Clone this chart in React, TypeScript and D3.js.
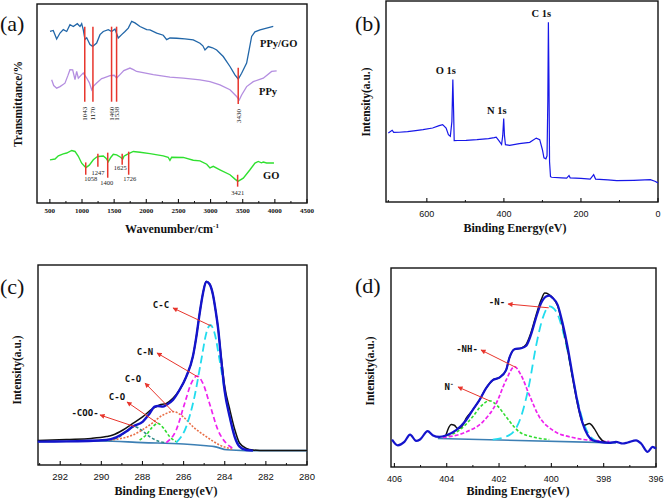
import React from "react";
import * as d3 from "d3";

type Pt = [number, number];

// ---------- (a) FTIR ----------
const ftirTicks = [500, 1000, 1500, 2000, 2500, 3000, 3500, 4000, 4500];
const ftirMinor = [750, 1250, 1750, 2250, 2750, 3250, 3750, 4250];
const ppyGOSeries: Pt[] = [
  [502, 86.2], [553, 86.7], [606, 82.4], [658, 85.4], [709, 87.1], [762, 86.2], [813, 89.6], [865, 88.7],
  [927, 90.1], [969, 88.7], [995, 90.1], [1020, 87], [1046, 82.2], [1073, 83], [1124, 79.6], [1166, 78.7],
  [1228, 80.4], [1280, 84.6], [1331, 86.2], [1409, 87.1], [1462, 86.2], [1513, 87.4], [1564, 82.9],
  [1617, 84.6], [1669, 86.2], [1720, 87.9], [1773, 91.3], [1824, 90.5], [1902, 88.7], [2006, 87.1],
  [2057, 87], [2162, 85.4], [2264, 84.3], [2317, 82.1], [2368, 82.9], [2473, 82.8], [2600, 82.5],
  [2731, 82], [2835, 80.3], [2880, 79], [2913, 76.9], [2965, 78.6], [3030, 78], [3095, 76.9],
  [3197, 73.6], [3302, 68.6], [3379, 64.4], [3431, 62.3], [3483, 65.2], [3561, 70.3], [3600, 77],
  [3639, 83.7], [3690, 86], [3770, 87], [3872, 87.9], [3975, 88.7],
];
const ppySeries: Pt[] = [
  [528, 61.9], [560, 59], [606, 57.7], [658, 58.5], [735, 60.2], [780, 64], [813, 67], [855, 66.9],
  [891, 62], [917, 66.1], [943, 62.7], [995, 64.5], [1020, 65.3], [1073, 62.8], [1113, 60.5], [1151, 56.9],
  [1176, 58.6], [1228, 60.3], [1306, 62.5], [1331, 62.8], [1435, 64], [1500, 64.2], [1539, 62.8],
  [1591, 64.5], [1650, 66.5], [1746, 67.8], [1800, 67], [1850, 66.1], [1950, 65.5], [2109, 64.5],
  [2368, 63.3], [2575, 62.7], [2835, 61.9], [2990, 61], [3146, 59.4], [3302, 56.9], [3406, 53.5],
  [3446, 51.8], [3483, 54.3], [3561, 58.5], [3664, 61], [3820, 62.7], [3950, 66.1], [4028, 66.4],
];
const goSeries: Pt[] = [
  [502, 21.7], [580, 22.1], [632, 23.7], [709, 24.7], [762, 25.1], [840, 26.4], [891, 25.9], [943, 23.5],
  [995, 20], [1046, 18.2], [1062, 17.8], [1113, 19], [1176, 21.7], [1228, 23.1], [1254, 23.4], [1331, 23.6],
  [1373, 22.5], [1409, 20.8], [1450, 23], [1487, 24.5], [1539, 24.2], [1600, 23], [1633, 22.1], [1653, 23.5],
  [1695, 24.3], [1798, 25.9], [1902, 25.5], [2057, 24.8], [2264, 23.7], [2340, 23], [2368, 21.4], [2395, 23],
  [2575, 22.9], [2731, 21.5], [2835, 21.2], [2940, 19.5], [2990, 17.6], [3042, 18.4], [3146, 16.7],
  [3302, 14.2], [3380, 12], [3425, 10.9], [3509, 12.5], [3613, 16.7], [3691, 20.1], [3742, 20.9],
  [3790, 20.2], [3820, 20.6], [3872, 20.1], [3986, 20.1],
];
// marks: wavenumber, top value, bottom value
const ftirUpperMarks: [number, number, number][] = [
  [1043, 88.6, 50.9], [1170, 88.6, 50.9], [1460, 88.6, 50.9], [1538, 88.6, 50.9], [3430, 68, 49.8],
];
const ftirGOMarks: [number, number, number][] = [
  [1058, 20.4, 14.2], [1247, 24.8, 18.2], [1400, 25.3, 12.7], [1625, 24.8, 19.2], [1726, 25.8, 14.2], [3421, 14.2, 8.2],
];
const ftirGOLabelShift: Pt[] = [[5, 6], [0, 8], [-1, 7], [-2, 5.5], [1, 6], [0, 8]];

// ---------- (b) XPS survey ----------
const surveyTicks = [600, 400, 200, 0];
const surveyMinor = [700, 500, 300, 100];
const surveySeries: Pt[] = [
  [700, 34.3], [690, 35.7], [686, 34.6], [672, 34.7], [650, 35], [629, 35.5], [610, 36], [585, 36.8],
  [568, 38], [559, 38.5], [550, 36.8], [544, 33.5], [539, 32.7], [535, 40], [532.5, 61], [530.5, 45],
  [529, 30.5], [520, 30.6], [498, 30.7], [470, 31], [440, 31.5], [425, 32], [420, 32.3], [413, 30.5],
  [406, 28.6], [403, 33], [400.5, 41.5], [398.5, 33], [396, 28.5], [385, 28.2], [360, 29], [333, 29.7],
  [316, 31.8], [307, 31], [300, 26], [296, 22], [291, 21.5], [288, 23], [286, 50], [284.5, 89.4],
  [283, 60], [281.5, 20], [279, 12.6], [276, 12.3], [250, 12], [237, 11.9], [231, 13.2], [228, 12],
  [200, 11.8], [176, 11.4], [167, 13.6], [162, 11.4], [130, 11], [107, 10.6], [63, 10.8], [20, 11.1],
  [8, 10.3], [0, 9.5],
];
const surveyPeaks: [string, number, number][] = [["O 1s", 532.5, 61], ["N 1s", 400.5, 41.5], ["C 1s", 284.5, 89.4]];

// ---------- (c) C 1s ----------
const c1sTicks = [292, 290, 288, 286, 284, 282, 280];
const c1sMinor = [293, 291, 289, 287, 285, 283, 281];
const c1sRaw: Pt[] = [
  [293.09, 12.2], [291.7, 12.8], [290.5, 13.3], [289.76, 14.2], [289.44, 15], [288.95, 17.5], [288.47, 20.8],
  [287.98, 24.2], [287.49, 28.3], [287.17, 30], [286.84, 30.8], [286.52, 33.3], [286.2, 37.5], [285.87, 44.2],
  [285.55, 54.2], [285.38, 64.2], [285.22, 75.8], [285.06, 85.8], [284.9, 91.7], [284.74, 90.5], [284.57, 85],
  [284.44, 77], [284.33, 69], [284.17, 54], [284.01, 40], [283.76, 28], [283.52, 18], [283.28, 11],
  [282.95, 8.3], [282.63, 7.5], [282, 7.2], [280, 7.2],
];
const c1sEnvelope: Pt[] = [
  [293.09, 11.7], [291.71, 11.8], [289.76, 12.5], [289.28, 13.8], [288.79, 16.7], [288.47, 19.2],
  [287.98, 21.7], [287.65, 25.8], [287.41, 29.2], [287.25, 29.5], [287.01, 29.2], [286.84, 30],
  [286.52, 32.5], [286.2, 37.5], [285.87, 44.2], [285.55, 54.2], [285.38, 64.2], [285.22, 75.8],
  [285.06, 85.8], [284.9, 91.7], [284.74, 90.5], [284.57, 85], [284.44, 77], [284.33, 69], [284.17, 52.5],
  [284.01, 37.5], [283.76, 24.2], [283.52, 14.2], [283.28, 9.2], [282.95, 7.5], [282.63, 7.2],
];
const c1sBaseline: Pt[] = [
  [293.09, 11.7], [290, 12], [288, 11.2], [286, 10.5], [284.9, 9.6], [284.5, 9.2], [283.9, 7.6], [283, 7.2], [280, 7.2],
];
const c1sCOO: Pt[] = [
  [289.6, 12.2], [289.11, 14.2], [288.71, 17.5], [288.38, 19.2], [288.06, 17.5], [287.65, 14.2], [287.17, 11.7], [286.84, 11.2],
];
const c1sCO1: Pt[] = [
  [288.14, 12.5], [287.82, 15], [287.53, 18.8], [287.25, 20.8], [286.97, 18.3], [286.68, 14.2], [286.36, 11.7],
];
const c1sCO2: Pt[] = [
  [289.6, 12.5], [288.47, 15], [287.65, 20], [287.0, 25], [286.52, 26.7], [286.03, 24.2], [285.55, 19.2],
  [284.9, 14.2], [284.25, 10], [283.6, 7.8],
];
const c1sCN: Pt[] = [
  [286.84, 11.2], [286.36, 17.5], [285.95, 30.8], [285.63, 40.8], [285.35, 44.5], [285.06, 40.8],
  [284.74, 30.8], [284.33, 17.5], [283.92, 10.8], [283.6, 8.3],
];
const c1sCC: Pt[] = [
  [286.36, 11.2], [285.87, 19.2], [285.47, 34.2], [285.14, 52.5], [284.9, 65.8], [284.7, 70], [284.49, 65.8],
  [284.25, 52.5], [283.92, 32.5], [283.6, 17.5], [283.28, 9.2], [283.03, 7.5],
];

// ---------- (d) N 1s ----------
const n1sTicks = [406, 404, 402, 400, 398, 396];
const n1sMinor = [405, 403, 401, 399, 397];
const n1sMeasured: Pt[] = [
  [406.09, 13.8], [405.87, 10.9], [405.62, 12.6], [405.4, 16.3], [405.17, 13.1], [405.02, 13.8], [404.73, 18],
  [404.54, 16], [404.28, 15.1], [404.03, 15.8], [403.64, 18.5], [403.26, 23.5], [403.01, 28.6], [402.75, 33.6],
  [402.5, 39.5], [402.24, 43.7], [401.99, 44.9], [401.73, 48.7], [401.61, 54.6], [401.41, 59.2], [401.16, 59.7],
  [400.97, 60.8], [400.78, 66.4], [400.59, 74.8], [400.39, 82.4], [400.2, 85.7], [400.08, 86.1], [399.95, 84.9],
  [399.76, 81.5], [399.57, 72.3], [399.38, 60.5], [399.18, 45.4], [398.99, 31.9], [398.8, 21.8], [398.61, 16],
  [398.42, 13.4], [398.17, 12.6], [397.78, 12.1], [397.53, 12.6], [397.27, 11.8], [397.08, 12.3], [396.76, 13.4],
  [396.57, 11.8], [396.32, 7.6], [396.13, 10.1], [396.0, 9.2],
];
const n1sRaw: Pt[] = [
  [404.03, 16], [403.83, 21.3], [403.71, 21], [403.58, 19.3], [403.39, 21], [403.26, 24.4], [403.01, 28.6],
  [402.75, 33.6], [402.5, 39.5], [402.24, 43.7], [401.99, 44.9], [401.73, 48.7], [401.61, 54.6], [401.41, 59.2],
  [401.16, 59.7], [400.97, 61.5], [400.78, 67.5], [400.59, 76], [400.39, 84], [400.25, 87.4], [400.1, 86.8],
  [399.95, 85], [399.76, 81], [399.57, 71], [399.38, 59], [399.18, 44], [398.99, 31], [398.87, 24.4],
  [398.74, 21], [398.55, 21.8], [398.36, 19.3], [398.17, 15.1], [397.97, 12.6], [397.78, 12.1],
];
const n1sBaseline: Pt[] = [[404.34, 14.3], [397.53, 12.1]];
const n1sNminus: Pt[] = [
  [404.15, 15.1], [403.52, 18.5], [403.01, 25.2], [402.69, 30.6], [402.37, 33.3], [402.05, 30.6], [401.73, 25.2],
  [401.22, 17.6], [400.71, 15.1], [400.08, 13.8],
];
const n1sNH: Pt[] = [
  [404.15, 14.8], [403.26, 17.6], [402.62, 22.7], [402.11, 31.9], [401.73, 43.7], [401.41, 50.4], [401.16, 46.2],
  [400.84, 36.1], [400.46, 25.2], [399.95, 18.5], [399.18, 14.8], [398.17, 13.1], [397.78, 12.8],
];
const n1sN: Pt[] = [
  [402.24, 13.8], [401.61, 16], [401.16, 25.2], [400.84, 42], [400.59, 60.5], [400.33, 74.8], [400.08, 80.7],
  [399.82, 78.2], [399.57, 68.9], [399.31, 53.8], [399.06, 37], [398.8, 23.5], [398.55, 16], [398.29, 13.1],
];

type Box = { x0: number; x1: number; y0: number; y1: number };

const serif = "'Liberation Serif', 'Times New Roman', serif";
const sans = "'Liberation Sans', Arial, sans-serif";
const mono = "'DejaVu Sans Mono', monospace";
const RED = "#e8352c";

function makeLine(sx: d3.ScaleLinear<number, number>, sy: d3.ScaleLinear<number, number>, smooth: boolean) {
  const l = d3.line<Pt>().x((d) => sx(d[0])).y((d) => sy(d[1]));
  if (smooth) l.curve(d3.curveMonotoneX);
  return (data: Pt[]) => l([...data].sort((a, b) => sx(a[0]) - sx(b[0]))) || "";
}

function Frame({ box, sx, ticks, minor, font, size, weight, labelY }: {
  box: Box; sx: d3.ScaleLinear<number, number>; ticks: number[]; minor: number[];
  font: string; size: number; weight: string; labelY: number;
}) {
  return (
    <g>
      <rect x={box.x0} y={box.y0} width={box.x1 - box.x0} height={box.y1 - box.y0} fill="none" stroke="#111" strokeWidth={1.4} />
      {ticks.map((t) => (
        <g key={"M" + t}>
          <line x1={sx(t)} x2={sx(t)} y1={box.y1} y2={box.y1 - 4} stroke="#111" strokeWidth={1.1} />
          <text x={sx(t)} y={labelY} textAnchor="middle" fontFamily={font} fontSize={size} fontWeight={weight} fill="#111">{t}</text>
        </g>
      ))}
      {minor.map((t) => (
        <line key={"m" + t} x1={sx(t)} x2={sx(t)} y1={box.y1} y2={box.y1 - 2} stroke="#111" strokeWidth={1} />
      ))}
    </g>
  );
}

function YTitle({ x, y, text, size }: { x: number; y: number; text: string; size: number }) {
  return (
    <text transform={`translate(${x},${y}) rotate(-90)`} textAnchor="middle" dy="0.35em" fontFamily={serif} fontWeight="bold" fontSize={size} fill="#111">{text}</text>
  );
}

function Arrow({ x1, y1, x2, y2 }: { x1: number; y1: number; x2: number; y2: number }) {
  return <line x1={x1} y1={y1} x2={x2} y2={y2} stroke={RED} strokeWidth={1} markerEnd="url(#arrowHead)" />;
}

export default function App() {
  // panel (a)
  const boxA: Box = { x0: 37, x1: 307, y0: 4, y1: 203 };
  const sxA = d3.scaleLinear().domain([300, 4500]).range([boxA.x0, boxA.x1]);
  const syA = d3.scaleLinear().domain([0, 100]).range([boxA.y1, boxA.y0]);
  const lineA = makeLine(sxA, syA, false);

  // panel (b)
  const boxB: Box = { x0: 386, x1: 658, y0: 1, y1: 202 };
  const sxB = d3.scaleLinear().domain([706, 0]).range([boxB.x0, boxB.x1]);
  const syB = d3.scaleLinear().domain([0, 100]).range([boxB.y1, boxB.y0]);
  const lineB = makeLine(sxB, syB, false);

  // panel (c)
  const boxC: Box = { x0: 38, x1: 307, y0: 265, y1: 465 };
  const sxC = d3.scaleLinear().domain([293.08, 280]).range([boxC.x0, boxC.x1]);
  const syC = d3.scaleLinear().domain([0, 100]).range([boxC.y1, boxC.y0]);
  const lineC = makeLine(sxC, syC, true);

  // panel (d)
  const boxD: Box = { x0: 391, x1: 656, y0: 268, y1: 467 };
  const sxD = d3.scaleLinear().domain([406.13, 396]).range([boxD.x0, boxD.x1]);
  const syD = d3.scaleLinear().domain([0, 100]).range([boxD.y1, boxD.y0]);
  const lineD = makeLine(sxD, syD, true);

  return (
    <svg width={666} height={500} viewBox="0 0 666 500" style={{ position: "absolute", left: 0, top: 0, background: "#fff" }}>
      <defs>
        <marker id="arrowHead" viewBox="0 0 10 10" refX="9" refY="5" markerWidth="6" markerHeight="5" orient="auto" markerUnits="userSpaceOnUse">
          <path d="M0,0 L10,5 L0,10 z" fill={RED} />
        </marker>
      </defs>
      <rect x={0} y={0} width={666} height={500} fill="#fff" />

      {/* ================= (a) ================= */}
      <Frame box={boxA} sx={sxA} ticks={ftirTicks} minor={ftirMinor} font={serif} size={7} weight="bold" labelY={212.5} />
      <path d={lineA(ppyGOSeries)} fill="none" stroke="#2166a8" strokeWidth={1.3} />
      <path d={lineA(ppySeries)} fill="none" stroke="#b48ee0" strokeWidth={1.3} />
      <path d={lineA(goSeries)} fill="none" stroke="#2fe02f" strokeWidth={1.4} />
      {ftirUpperMarks.map(([w, t, b]) => (
        <g key={"u" + w}>
          <line x1={sxA(w)} x2={sxA(w)} y1={syA(t)} y2={syA(b)} stroke={RED} strokeWidth={1.5} />
          <text transform={`translate(${sxA(w)},${syA(b) + 12}) rotate(-90)`} textAnchor="middle" dy="0.35em" fontFamily={serif} fontSize={7} fill="#222">{w}</text>
        </g>
      ))}
      {ftirGOMarks.map(([w, t, b], i) => (
        <g key={"g" + w}>
          <line x1={sxA(w)} x2={sxA(w)} y1={syA(t)} y2={syA(b)} stroke={RED} strokeWidth={1.5} />
          <text x={sxA(w) + ftirGOLabelShift[i][0]} y={syA(b) + ftirGOLabelShift[i][1]} textAnchor="middle" fontFamily={serif} fontSize={6.5} fill="#222">{w}</text>
        </g>
      ))}
      <text x={260} y={47} fontFamily={serif} fontWeight="bold" fontSize={10.5} fill="#111">PPy/GO</text>
      <text x={259} y={95} fontFamily={serif} fontWeight="bold" fontSize={10.5} fill="#111">PPy</text>
      <text x={263} y={179} fontFamily={serif} fontWeight="bold" fontSize={10.5} fill="#111">GO</text>
      <text x={0} y={31} fontFamily={serif} fontSize={22} fill="#111">(a)</text>
      <YTitle x={18} y={104} text="Transmittance/%" size={11.5} />
      <text x={172} y={233} textAnchor="middle" fontFamily={serif} fontWeight="bold" fontSize={12} fill="#111">
        Wavenumber/cm<tspan dy={-5} fontSize={7}>-1</tspan>
      </text>

      {/* ================= (b) ================= */}
      <Frame box={boxB} sx={sxB} ticks={surveyTicks} minor={surveyMinor} font={sans} size={9} weight="normal" labelY={216.5} />
      <path d={lineB(surveySeries)} fill="none" stroke="#1717e8" strokeWidth={1.2} />
      {surveyPeaks.map(([name, be, v]) => (
        <text key={name} x={sxB(be) - 7} y={syB(v) - 5} textAnchor="middle" fontFamily={serif} fontWeight="bold" fontSize={10.5} fill="#111">{name}</text>
      ))}
      <text x={355} y={31} fontFamily={serif} fontSize={22} fill="#111">(b)</text>
      <YTitle x={366} y={102} text="Intensity(a.u.)" size={11.5} />
      <text x={515} y={232} textAnchor="middle" fontFamily={serif} fontWeight="bold" fontSize={12} fill="#111">Binding Energy(eV)</text>

      {/* ================= (c) ================= */}
      <Frame box={boxC} sx={sxC} ticks={c1sTicks} minor={c1sMinor} font={sans} size={9.5} weight="normal" labelY={480} />
      <path d={lineC(c1sBaseline)} fill="none" stroke="#3c7fb4" strokeWidth={1.6} />
      <path d={lineC(c1sCOO)} fill="none" stroke="#2e8c86" strokeWidth={1.6} strokeDasharray="3,2" />
      <path d={lineC(c1sCO1)} fill="none" stroke="#2fdc2f" strokeWidth={1.6} strokeDasharray="3,2" />
      <path d={lineC(c1sCO2)} fill="none" stroke="#e87048" strokeWidth={1.6} strokeDasharray="2,1.5" />
      <path d={lineC(c1sCN)} fill="none" stroke="#ee22ee" strokeWidth={1.7} strokeDasharray="5,3" />
      <path d={lineC(c1sCC)} fill="none" stroke="#22dcee" strokeWidth={1.8} strokeDasharray="8,4" />
      <path d={lineC(c1sRaw)} fill="none" stroke="#111" strokeWidth={1.5} />
      <path d={lineC(c1sEnvelope)} fill="none" stroke="#1414cc" strokeWidth={2.4} />
      <Arrow x1={sxC(284.66)} y1={syC(69.5)} x2={173} y2={308} />
      <text x={161} y={307.5} textAnchor="middle" fontFamily={mono} fontWeight="bold" fontSize={9} fill="#111">C-C</text>
      <Arrow x1={sxC(285.3)} y1={syC(44)} x2={157} y2={353} />
      <text x={145} y={355} textAnchor="middle" fontFamily={mono} fontWeight="bold" fontSize={9} fill="#111">C-N</text>
      <Arrow x1={sxC(286.52)} y1={syC(26.7)} x2={145} y2={383} />
      <text x={133} y={382} textAnchor="middle" fontFamily={mono} fontWeight="bold" fontSize={9} fill="#111">C-O</text>
      <Arrow x1={sxC(287.25)} y1={syC(20.8)} x2={127} y2={402} />
      <text x={117} y={400} textAnchor="middle" fontFamily={mono} fontWeight="bold" fontSize={9} fill="#111">C-O</text>
      <Arrow x1={sxC(288.38)} y1={syC(19.2)} x2={100} y2={415} />
      <text x={85} y={416} textAnchor="middle" fontFamily={mono} fontWeight="bold" fontSize={9} fill="#111">-COO-</text>
      <text x={0} y={294} fontFamily={serif} fontSize={22} fill="#111">(c)</text>
      <YTitle x={17} y={370} text="Intensity(a.u.)" size={11.5} />
      <text x={166} y={495} textAnchor="middle" fontFamily={serif} fontWeight="bold" fontSize={12} fill="#111">Binding Energy(eV)</text>

      {/* ================= (d) ================= */}
      <Frame box={boxD} sx={sxD} ticks={n1sTicks} minor={n1sMinor} font={sans} size={9} weight="normal" labelY={482} />
      <path d={lineD(n1sBaseline)} fill="none" stroke="#3c7fb4" strokeWidth={1.6} />
      <path d={lineD(n1sNminus)} fill="none" stroke="#2fdc2f" strokeWidth={1.6} strokeDasharray="3,2" />
      <path d={lineD(n1sNH)} fill="none" stroke="#ee22ee" strokeWidth={1.7} strokeDasharray="4,2" />
      <path d={lineD(n1sN)} fill="none" stroke="#22dcee" strokeWidth={1.8} strokeDasharray="9,5" />
      <path d={lineD(n1sRaw)} fill="none" stroke="#111" strokeWidth={1.5} />
      <path d={lineD(n1sMeasured)} fill="none" stroke="#1414cc" strokeWidth={2.2} />
      <Arrow x1={sxD(400.1)} y1={syD(80)} x2={508} y2={304} />
      <text x={497} y={305} textAnchor="middle" fontFamily={mono} fontWeight="bold" fontSize={9} fill="#111">-N-</text>
      <Arrow x1={sxD(401.35)} y1={syD(50)} x2={481} y2={350} />
      <text x={467} y={352} textAnchor="middle" fontFamily={mono} fontWeight="bold" fontSize={9} fill="#111">-NH-</text>
      <Arrow x1={sxD(402.37)} y1={syD(33.3)} x2={458} y2={387} />
      <text x={449} y={390} textAnchor="middle" fontFamily={mono} fontWeight="bold" fontSize={9} fill="#111">N<tspan dy={-4} fontSize={6}>-</tspan></text>
      <text x={355} y={293} fontFamily={serif} fontSize={22} fill="#111">(d)</text>
      <YTitle x={370} y={371} text="Intensity(a.u.)" size={11.5} />
      <text x={518} y={495} textAnchor="middle" fontFamily={serif} fontWeight="bold" fontSize={12} fill="#111">Binding Energy(eV)</text>
    </svg>
  );
}
